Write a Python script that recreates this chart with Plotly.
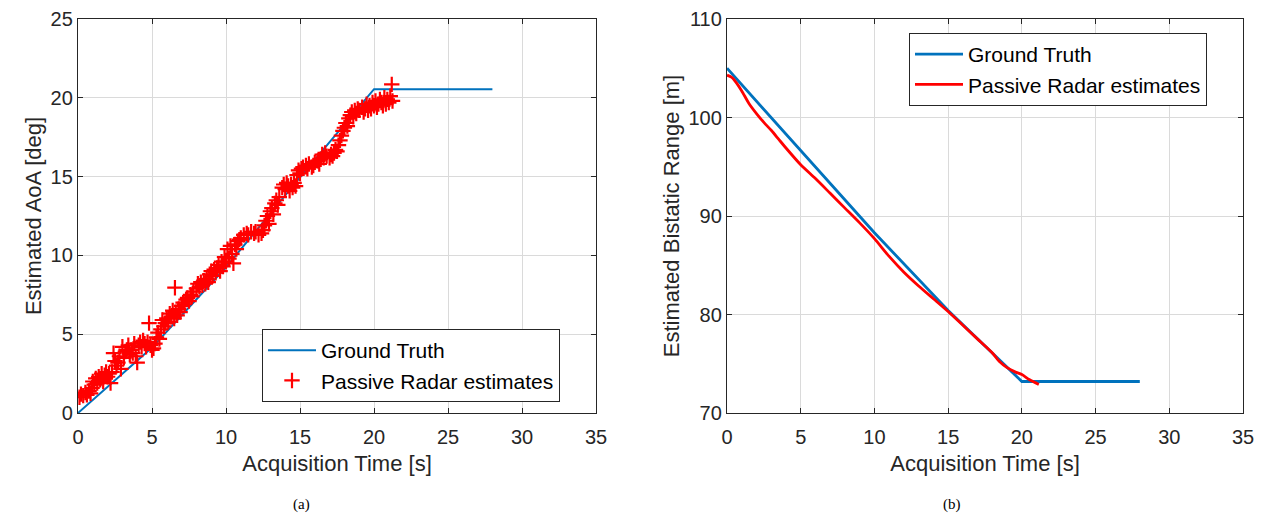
import plotly.graph_objects as go

# ---- (a) angle of arrival ----
aoa_truth_t = [0, 5, 10, 15, 20, 28]
aoa_truth_v = [0.0, 4.15, 9.25, 14.95, 20.55, 20.55]

aoa_est_t = [
    0.1, 0.2, 0.35, 0.5, 0.6, 0.75, 0.85, 0.95, 1.0, 1.1, 1.2,
    1.3, 1.4, 1.5, 1.6, 1.7, 1.8, 1.9, 2.0, 2.1, 2.2, 2.3, 2.4,
    2.5, 2.6, 2.7, 2.8, 2.9, 3.0, 3.1, 3.2, 3.3, 3.4, 3.5, 3.6, 3.7, 3.8, 3.9, 4.0,
    4.1, 4.2, 4.3, 4.4, 4.5, 4.6, 4.7, 4.8, 4.9, 5.0, 5.1, 5.2, 5.3, 5.4, 5.5,
    5.6, 5.7, 5.8, 5.9, 6.0, 6.1, 6.2, 6.3, 6.4, 6.5, 6.55, 6.6, 6.7, 6.8, 6.9,
    7.0, 7.1, 7.2, 7.3, 7.4, 7.5, 7.6, 7.7, 7.8, 8.0, 8.1, 8.2, 8.3, 8.4, 8.5, 8.6, 8.7, 8.8, 8.9,
    9.0, 9.1, 9.2, 9.3, 9.4, 9.5, 9.6, 9.7, 9.8, 9.9, 10.0, 10.1, 10.2, 10.3, 10.4, 10.5, 10.6, 10.7, 10.8, 10.9,
    11.0, 11.2, 11.4, 11.5, 11.7, 11.9, 12.0, 12.2, 12.4, 12.5, 12.6,
    12.7, 12.8, 12.9, 13.0, 13.1, 13.2, 13.3, 13.4, 13.5, 13.6,
    13.8, 13.9, 14.0, 14.1, 14.2, 14.3, 14.4, 14.5, 14.6, 14.7,
    14.8, 14.9, 15.0, 15.1, 15.2, 15.4, 15.5, 15.6, 15.8, 15.9, 16.0, 16.2, 16.3, 16.4,
    16.5, 16.6, 16.7, 16.8, 17.0, 17.1, 17.2, 17.3, 17.4, 17.5, 17.6, 17.7,
    17.8, 17.9, 18.0, 18.1, 18.2, 18.3, 18.4, 18.5, 18.6, 18.7, 18.8, 18.9,
    19.0, 19.2, 19.3, 19.4, 19.5, 19.6, 19.7, 19.8, 19.9, 20.0, 20.1, 20.2, 20.3, 20.4,
    20.5, 20.6, 20.7, 20.8, 20.9, 21.0, 21.1, 21.2, 21.25,
]
aoa_est_v = [
    1.0, 1.2, 1.1, 1.3, 1.15, 1.4, 1.25, 1.6, 2.0, 1.8, 2.2,
    1.9, 2.3, 2.1, 2.5, 2.0, 2.4, 2.6, 2.3, 2.5, 1.9, 2.6, 3.8,
    3.3, 3.0, 3.2, 3.6, 2.8, 4.2, 3.5, 3.9, 4.0, 4.3, 3.7, 4.0, 3.8, 4.4, 3.6, 3.2,
    4.3, 4.5, 4.2, 4.6, 4.4, 4.2, 4.5, 5.7, 4.3, 4.0, 4.1, 4.4, 4.8, 5.1, 4.7,
    5.3, 5.9, 5.5, 5.7, 6.0, 5.8, 6.3, 6.1, 6.5, 6.0, 7.95, 6.4, 6.2, 6.6, 6.4,
    6.8, 7.0, 6.9, 7.2, 7.3, 7.1, 7.5, 7.4, 7.7, 7.9, 8.2, 8.0, 8.3, 8.1, 8.4, 8.2, 8.5, 8.3, 8.8,
    9.0, 8.7, 9.1, 8.9, 9.2, 9.4, 9.0, 9.6, 9.3, 9.9, 9.6, 10.4, 9.8, 10.6, 10.1, 9.5, 10.7, 10.4, 10.9, 11.0,
    11.1, 11.3, 11.4, 11.3, 11.5, 11.4, 11.5, 11.3, 11.4, 11.6, 11.9,
    12.2, 12.5, 12.0, 12.8, 13.0, 12.6, 13.3, 13.5, 13.2, 13.7,
    14.3, 14.5, 14.2, 14.6, 14.4, 14.1, 14.5, 14.3, 14.6, 14.4,
    15.1, 15.4, 15.2, 15.5, 15.6, 15.7, 15.5, 15.8, 15.6, 15.7, 15.9, 16.0, 15.8, 16.1,
    16.4, 16.2, 16.5, 16.3, 16.2, 16.4, 16.3, 16.5, 16.7, 16.6, 17.0, 17.3,
    17.6, 17.9, 18.1, 18.4, 18.2, 18.7, 18.9, 19.1, 18.8, 19.2, 19.0, 19.3,
    19.2, 19.4, 19.1, 19.3, 19.6, 19.2, 19.5, 19.3, 19.7, 19.5, 19.8, 19.4, 19.6, 19.9,
    19.7, 19.5, 20.0, 19.6, 19.9, 19.7, 20.1, 20.85, 19.8,
]

# ---- (b) bistatic range ----
rng_truth_t = [0, 5, 10, 15, 20, 28]
rng_truth_v = [105.0, 96.7, 88.3, 80.4, 73.2, 73.2]

rng_est_t = [0, 0.3, 0.6, 1.0, 1.5, 2.0, 2.5, 3.0, 3.5, 4.0, 5.0, 6.0, 7.0, 8.0, 9.0,
             10.0, 11.0, 12.0, 13.0, 14.0, 15.0, 16.0, 17.0, 18.0, 18.5, 19.0, 19.5,
             20.0, 20.5, 21.15]
rng_est_v = [104.3, 104.1, 103.6, 102.7, 101.4, 100.4, 99.5, 98.7, 97.8, 96.9, 95.2,
             93.8, 92.3, 90.8, 89.3, 87.7, 85.9, 84.3, 82.9, 81.6, 80.3, 78.9, 77.5,
             76.1, 75.2, 74.6, 74.2, 73.9, 73.4, 72.9]

x_ticks = [0, 5, 10, 15, 20, 25, 30, 35]
aoa_ticks = [0, 5, 10, 15, 20, 25]
rng_ticks = [70, 80, 90, 100, 110]

BLUE = "#0072BD"
RED = "#FF0000"
AXC = "#262626"
FONT = "Liberation Sans, Arial, Helvetica, sans-serif"
SERIF = "Liberation Serif, Times New Roman, serif"

W, H = 1263, 517
top_px, bot_px = 19, 413
ydom = [1 - bot_px / H, 1 - top_px / H]

fig = go.Figure()
fig.add_trace(go.Scatter(x=aoa_truth_t, y=aoa_truth_v, mode="lines", name="Ground Truth",
                         line=dict(color=BLUE, width=2), xaxis="x", yaxis="y", legend="legend"))
fig.add_trace(go.Scatter(x=aoa_est_t, y=aoa_est_v, mode="markers", name="Passive Radar estimates",
                         marker=dict(symbol="cross-thin", size=11, line=dict(color=RED, width=2.2)),
                         xaxis="x", yaxis="y", legend="legend"))
fig.add_trace(go.Scatter(x=rng_truth_t, y=rng_truth_v, mode="lines", name="Ground Truth",
                         line=dict(color=BLUE, width=2.8), xaxis="x2", yaxis="y2", legend="legend2"))
fig.add_trace(go.Scatter(x=rng_est_t, y=rng_est_v, mode="lines", name="Passive Radar estimates",
                         line=dict(color=RED, width=2.8, shape="spline", smoothing=0.6),
                         xaxis="x2", yaxis="y2", legend="legend2"))

axis_common = dict(
    showline=True, linecolor=AXC, linewidth=1.3, mirror="ticks",
    ticks="inside", ticklen=5, tickcolor=AXC, tickwidth=1.3,
    showgrid=True, gridcolor="#DADADA", gridwidth=1, zeroline=False,
    automargin=False,
    tickfont=dict(family=FONT, size=20, color=AXC),
    title_font=dict(family=FONT, size=22, color=AXC),
)

legend_common = dict(
    xanchor="left", yanchor="top", bgcolor="white", bordercolor=AXC, borderwidth=1,
    font=dict(family=FONT, size=21, color="black"), itemwidth=48, tracegroupgap=0,
)

fig.update_layout(
    width=W, height=H, template="none",
    margin=dict(l=0, r=0, t=0, b=0, pad=0, autoexpand=False),
    paper_bgcolor="white", plot_bgcolor="white",
    xaxis=dict(domain=[78 / W, 596 / W], range=[0, 35], tickvals=x_ticks, ticklabelstandoff=6,
               title=dict(text="Acquisition Time [s]", standoff=8), anchor="y", **axis_common),
    yaxis=dict(domain=ydom, range=[0, 25], tickvals=aoa_ticks,
               title=dict(text="Estimated AoA [deg]", standoff=2), anchor="x", **axis_common),
    xaxis2=dict(domain=[727 / W, 1243 / W], range=[0, 35], tickvals=x_ticks, ticklabelstandoff=6,
                title=dict(text="Acquisition Time [s]", standoff=8), anchor="y2", **axis_common),
    yaxis2=dict(domain=ydom, range=[70, 110], tickvals=rng_ticks,
                title=dict(text="Estimated Bistatic Range [m]", standoff=2), anchor="x2", **axis_common),
    legend=dict(x=262 / W, y=1 - 329 / H, **legend_common),
    legend2=dict(x=909 / W, y=1 - 33 / H, **legend_common),
    annotations=[
        dict(text="(a)", x=301 / W, y=1 - 504 / H, xref="paper", yref="paper",
             xanchor="center", yanchor="middle", showarrow=False,
             font=dict(family=SERIF, size=15, color="black")),
        dict(text="(b)", x=952 / W, y=1 - 504 / H, xref="paper", yref="paper",
             xanchor="center", yanchor="middle", showarrow=False,
             font=dict(family=SERIF, size=15, color="black")),
    ],
)

fig.write_html("out.html")
